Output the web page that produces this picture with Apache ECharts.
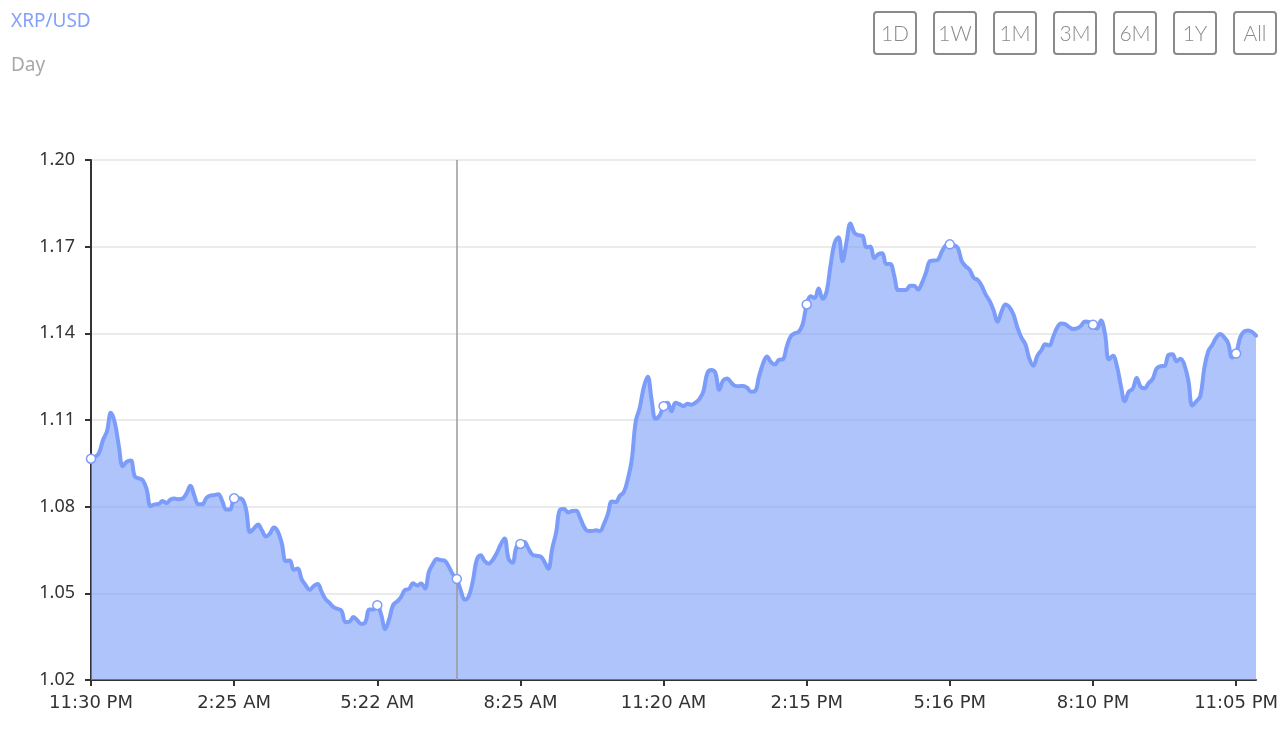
<!DOCTYPE html>
<html>
<head>
<meta charset="utf-8">
<script src="https://cdn.jsdelivr.net/npm/echarts@6/dist/echarts.min.js"></script>
<style>
html,body{margin:0;padding:0;background:#fff;}
#chart{width:1286px;height:740px;}
</style>
</head>
<body>
<div id="chart"></div>
<script>
const titleText = 'XRP/USD';
const subtitleText = 'Day';
const rangeButtons = ['1D', '1W', '1M', '3M', '6M', '1Y', 'All'];
const tickLabels = ['11:30 PM', '2:25 AM', '5:22 AM', '8:25 AM', '11:20 AM', '2:15 PM', '5:16 PM', '8:10 PM', '11:05 PM'];
const labelStep = 36;
const yTicks = { min: 1.02, max: 1.20, interval: 0.03 };
const hoverIndex = 92;

const prices = [
  1.0966, 1.0972, 1.0985, 1.1030, 1.1060, 1.1125, 1.1090, 1.1010, 1.0940, 1.0956,
  1.0960, 1.0905, 1.0898, 1.0892, 1.0860, 1.0802, 1.0808, 1.0809, 1.0820, 1.0812,
  1.0825, 1.0828, 1.0826, 1.0828, 1.0845, 1.0872, 1.0838, 1.0808, 1.0808, 1.0830,
  1.0838, 1.0840, 1.0843, 1.0820, 1.0790, 1.0790, 1.0829, 1.0829, 1.0826, 1.0790,
  1.0712, 1.0725, 1.0738, 1.0718, 1.0697, 1.0707, 1.0728, 1.0714, 1.0672, 1.0612,
  1.0614, 1.0582, 1.0586, 1.0548, 1.0528, 1.0512, 1.0525, 1.0532, 1.0505, 1.0480,
  1.0467, 1.0452, 1.0446, 1.0440, 1.0400, 1.0402, 1.0418, 1.0406, 1.0394, 1.0400,
  1.0444, 1.0444, 1.0459, 1.0425, 1.0376, 1.0412, 1.0460, 1.0472, 1.0488, 1.0512,
  1.0515, 1.0535, 1.0527, 1.0534, 1.0517, 1.0575, 1.0602, 1.0619, 1.0615, 1.0612,
  1.0592, 1.0566, 1.0550, 1.0510, 1.0478, 1.0490, 1.0540, 1.0615, 1.0632, 1.0612,
  1.0602, 1.0615, 1.0638, 1.0668, 1.0690, 1.0620, 1.0606, 1.0660, 1.0671, 1.0678,
  1.0655, 1.0634, 1.0630, 1.0628, 1.0610, 1.0585, 1.0655, 1.0712, 1.0790, 1.0792,
  1.0780, 1.0785, 1.0786, 1.0762, 1.0730, 1.0716, 1.0716, 1.0718, 1.0716, 1.0740,
  1.0775, 1.0818, 1.0816, 1.0838, 1.0850, 1.0895, 1.0962, 1.1095, 1.1142, 1.1212,
  1.1250, 1.1170, 1.1104, 1.1115, 1.1148, 1.1160, 1.1130, 1.1160, 1.1155, 1.1148,
  1.1156, 1.1153, 1.1160, 1.1172, 1.1198, 1.1262, 1.1273, 1.1264, 1.1205, 1.1237,
  1.1244, 1.1230, 1.1218, 1.1217, 1.1218, 1.1212, 1.1198, 1.1200, 1.1250, 1.1295,
  1.1320, 1.1300, 1.1292, 1.1308, 1.1310, 1.1355, 1.1390, 1.1400, 1.1405, 1.1432,
  1.1500, 1.1528, 1.1522, 1.1555, 1.1520, 1.1544, 1.1635, 1.1712, 1.1733, 1.1650,
  1.1715, 1.1780, 1.1748, 1.1740, 1.1738, 1.1698, 1.1701, 1.1660, 1.1674, 1.1677,
  1.1640, 1.1640, 1.1600, 1.1550, 1.1550, 1.1550, 1.1565, 1.1565, 1.1552, 1.1575,
  1.1610, 1.1650, 1.1652, 1.1655, 1.1683, 1.1705, 1.1708, 1.1706, 1.1696, 1.1650,
  1.1632, 1.1620, 1.1592, 1.1585, 1.1565, 1.1535, 1.1512, 1.1480, 1.1440, 1.1475,
  1.1500, 1.1490, 1.1465, 1.1420, 1.1385, 1.1362, 1.1312, 1.1288, 1.1322, 1.1341,
  1.1362, 1.1358, 1.1388, 1.1420, 1.1434, 1.1432, 1.1422, 1.1415, 1.1417, 1.1426,
  1.1441, 1.1439, 1.1430, 1.1416, 1.1444, 1.1400, 1.1310, 1.1322, 1.1288, 1.1220,
  1.1165, 1.1198, 1.1208, 1.1245, 1.1215, 1.1210, 1.1228, 1.1242, 1.1278, 1.1286,
  1.1287, 1.1325, 1.1328, 1.1303, 1.1312, 1.1290, 1.1235, 1.1150, 1.1165, 1.1183,
  1.1280, 1.1338, 1.1360, 1.1385, 1.1398, 1.1386, 1.1366, 1.1316, 1.1330, 1.1385,
  1.1406, 1.1410, 1.1405, 1.1392
];

const categories = prices.map((_, i) => (i % labelStep === 0 ? tickLabels[i / labelStep] : ''));

const lineColor = '#7c9cfa';
const chart = echarts.init(document.getElementById('chart'), null, { renderer: 'canvas' });

const option = {
  animation: false,
  textStyle: { fontFamily: 'Noto Sans' },
  title: {
    text: titleText,
    subtext: subtitleText,
    left: 6,
    top: 7,
    itemGap: 25,
    textStyle: { color: '#82a0fc', fontSize: 19, fontWeight: 'normal', fontFamily: 'Noto Sans' },
    subtextStyle: { color: '#a8a8a8', fontSize: 19, fontFamily: 'Noto Sans' }
  },
  graphic: rangeButtons.map((t, k) => ({
    type: 'group',
    left: 873 + 60 * k,
    top: 11,
    children: [
      { type: 'rect', shape: { x: 0, y: 0, width: 42, height: 42, r: 3 },
        style: { fill: '#fff', stroke: '#8a8a8a', lineWidth: 2 } },
      { type: 'text', x: 21, y: 22,
        style: { text: t, fill: '#8a8a8a', font: '300 21px Lato', align: 'center', verticalAlign: 'middle' } }
    ]
  })),
  grid: { left: 91, right: 30, top: 160, bottom: 60, containLabel: false },
  xAxis: {
    type: 'category',
    data: categories,
    boundaryGap: false,
    axisLine: { lineStyle: { color: '#333', width: 2 } },
    axisTick: { show: true, interval: labelStep - 1, length: 6, lineStyle: { color: '#333', width: 2 } },
    axisLabel: { interval: labelStep - 1, color: '#333', fontSize: 18, margin: 14, fontFamily: 'DejaVu Sans' },
    splitLine: { show: false }
  },
  yAxis: {
    type: 'value',
    min: yTicks.min,
    max: yTicks.max,
    interval: yTicks.interval,
    axisLine: { show: true, lineStyle: { color: '#333', width: 2 } },
    axisTick: { show: true, length: 6, lineStyle: { color: '#333', width: 2 } },
    axisLabel: { color: '#333', fontSize: 18, margin: 16, formatter: v => v.toFixed(2) },
    splitLine: { show: true, lineStyle: { color: '#e5e5e5', width: 1.5 } }
  },
  series: [{
    type: 'line',
    data: prices,
    showSymbol: true,
    showAllSymbol: 'auto',
    symbol: 'circle',
    symbolSize: 9,
    itemStyle: { color: '#ffffff', borderColor: lineColor, borderWidth: 1.5 },
    lineStyle: { color: lineColor, width: 4, join: 'round', cap: 'round' },
    areaStyle: { color: lineColor, opacity: 0.6 },
    smooth: 0.4,
    markLine: {
      silent: true,
      symbol: ['none', 'none'],
      label: { show: false },
      lineStyle: { color: '#9a9a9a', width: 1.5, type: 'solid' },
      data: [{ xAxis: hoverIndex }]
    },
    markPoint: {
      symbol: 'circle',
      symbolSize: 9,
      label: { show: false },
      itemStyle: { color: '#ffffff', borderColor: lineColor, borderWidth: 1.5 },
      data: [{ coord: [hoverIndex, prices[hoverIndex]] }]
    }
  }]
};
chart.setOption(option);
</script>
</body>
</html>
